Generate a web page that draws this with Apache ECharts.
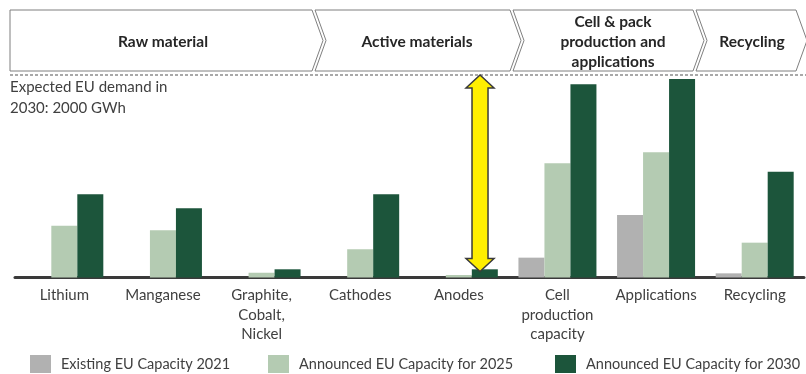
<!DOCTYPE html>
<html>
<head>
<meta charset="utf-8">
<script src="https://cdn.jsdelivr.net/npm/echarts@6/dist/echarts.min.js"></script>
<style>
html,body{margin:0;padding:0;background:#fff;}
#chart{width:806px;height:374px;}
</style>
</head>
<body>
<div id="chart"></div>
<script>
// ---- data ----
const categories = ['Lithium', 'Manganese', 'Graphite,\nCobalt,\nNickel', 'Cathodes', 'Anodes', 'Cell\nproduction\ncapacity', 'Applications', 'Recycling'];
const seriesNames = ['Existing EU Capacity 2021', 'Announced EU Capacity for 2025', 'Announced EU Capacity for 2030'];
const existing2021 = [null, null, null, null, null, 196, 617, 41];
const announced2025 = [512, 466, 47, 279, 25, 1128, 1237, 344];
const announced2030 = [822, 683, 81, 822, 81, 1908, 1961, 1045];
const demand2030 = 2000;
const arrowCategory = 'Anodes';
const arrowBottomValue = 60;
const stageLabels = ['Raw material', 'Active materials', 'Cell & pack\nproduction and\napplications', 'Recycling'];
const demandLabel = 'Expected EU demand in\n2030: 2000 GWh';

// ---- style ----
const FONT = 'Lato';
const colors = ['#b1b1b1', '#b4cbb2', '#1c553b'];
const textColor = '#404040';

const chart = echarts.init(document.getElementById('chart'), null, {renderer: 'canvas'});

// header chevrons (decoration layout)
const hTop = 10, hBot = 71, hMid = 40.5, tip = 11;
const chevrons = [
  {l: 10, r: 312, flatLeft: true, cx: 163},
  {l: 315, r: 510, cx: 417},
  {l: 513, r: 693, cx: 613},
  {l: 696, r: 796, cx: 752}
];
const graphics = [];
chevrons.forEach((c, i) => {
  const pts = c.flatLeft
    ? [[c.l, hTop], [c.r, hTop], [c.r + tip, hMid], [c.r, hBot], [c.l, hBot]]
    : [[c.l, hTop], [c.r, hTop], [c.r + tip, hMid], [c.r, hBot], [c.l, hBot], [c.l + tip, hMid]];
  graphics.push({
    type: 'polygon', z: 1,
    shape: {points: pts},
    style: {fill: '#ffffff', stroke: '#7f7f7f', lineWidth: 1}
  });
  graphics.push({
    type: 'text', z: 2,
    x: c.cx, y: 41.8,
    style: {
      text: stageLabels[i], fill: '#262626',
      font: 'bold 15.5px ' + FONT, align: 'center', verticalAlign: 'middle', lineHeight: 20
    }
  });
});
graphics.push({
  type: 'text', z: 2, x: 10, y: 77,
  style: {text: demandLabel, fill: textColor, font: '15px ' + FONT, lineHeight: 21, align: 'left', verticalAlign: 'top'}
});

function legendFor(i, left) {
  return {
    data: [seriesNames[i]], left: left, top: 355, padding: 0,
    icon: 'rect', itemWidth: 21, itemHeight: 18,
    textStyle: {color: textColor, fontSize: 14.5, fontFamily: FONT, padding: [0, 0, 0, 5]},
    selectedMode: false
  };
}

const option = {
  animation: false,
  backgroundColor: '#ffffff',
  textStyle: {fontFamily: FONT},
  graphic: graphics,
  legend: [legendFor(0, 30), legendFor(1, 268), legendFor(2, 555)],
  grid: {left: 15, right: 2, top: 75, bottom: 96.5, containLabel: false, outerBoundsMode: 'none'},
  xAxis: {
    type: 'category', data: categories,
    axisLine: {lineStyle: {color: '#3a3a3a', width: 3}},
    axisTick: {show: false},
    axisLabel: {interval: 0, color: textColor, fontSize: 15, fontFamily: FONT, lineHeight: 19.5, margin: 8}
  },
  yAxis: {
    type: 'value', min: 0, max: demand2030, show: false,
    splitLine: {show: false}
  },
  series: [
    {name: seriesNames[0], type: 'bar', data: existing2021, barWidth: 26, barGap: '0%', itemStyle: {color: colors[0]}},
    {name: seriesNames[1], type: 'bar', data: announced2025, barWidth: 26, barGap: '0%', itemStyle: {color: colors[1]}},
    {name: seriesNames[2], type: 'bar', data: announced2030, barWidth: 26, barGap: '0%', itemStyle: {color: colors[2]}},
    {
      type: 'custom', z: 10, silent: true,
      data: [[categories.indexOf(arrowCategory), demand2030, arrowBottomValue]],
      encode: {x: 0, y: 1},
      renderItem: function (params, api) {
        const top = api.coord([api.value(0), api.value(1)]);
        const bot = api.coord([api.value(0), api.value(2)]);
        const band = api.size([1, 0])[0];
        const cx = top[0] + band * 0.215;
        const yT = top[1], yB = bot[1];
        const hw = 14, sw = 8, hl = 13;
        const cs = params.coordSys;
        return {
          type: 'group',
          children: [
            {
              type: 'line', z2: 1,
              shape: {x1: cs.x - 5, y1: yT, x2: cs.x + cs.width + 4, y2: yT},
              style: {stroke: '#8c8c8c', lineWidth: 1.3, lineDash: [3, 2]}
            },
            {
              type: 'polygon', z2: 2,
              shape: {points: [
                [cx, yT], [cx + hw, yT + hl], [cx + sw, yT + hl], [cx + sw, yB - hl], [cx + hw, yB - hl],
                [cx, yB], [cx - hw, yB - hl], [cx - sw, yB - hl], [cx - sw, yT + hl], [cx - hw, yT + hl]
              ]},
              style: {fill: '#ffee00', stroke: '#3a3a3a', lineWidth: 1.5}
            }
          ]
        };
      }
    }
  ]
};
chart.setOption(option);
</script>
</body>
</html>
